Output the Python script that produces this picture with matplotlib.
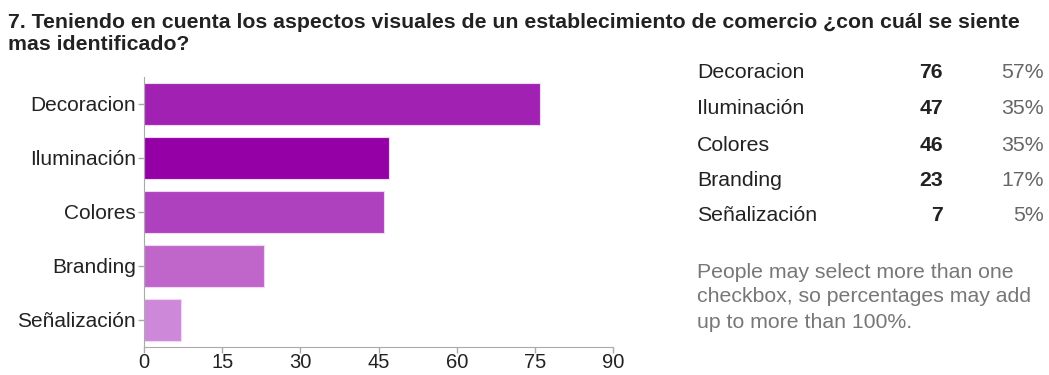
import matplotlib.pyplot as plt

plt.rcParams['font.family'] = ['Liberation Sans', 'DejaVu Sans']

categorias = ['Decoracion', 'Iluminación', 'Colores', 'Branding', 'Señalización']
respuestas = [76, 47, 46, 23, 7]
porcentajes = ['57%', '35%', '35%', '17%', '5%']
colores = ['#A121B3', '#9500A6', '#AE41BE', '#C066CB', '#CD88DA']
xticks = [0, 15, 30, 45, 60, 75, 90]

fig = plt.figure(figsize=(10.49, 3.75), dpi=100)
ax = fig.add_axes([0.1373, 0.0747, 0.4471, 0.72])

ypos = range(len(categorias))
ax.barh(ypos, respuestas, height=0.79, color=colores, edgecolor='#F0D8F4', linewidth=0.8)
ax.set_ylim(4.5, -0.5)
ax.set_xlim(0, 90)
ax.set_yticks(list(ypos))
ax.set_yticklabels(categorias)
ax.set_xticks(xticks)
for s in ['top', 'right']:
    ax.spines[s].set_visible(False)
for s in ['left', 'bottom']:
    ax.spines[s].set_color('#AAAAAA')
ax.tick_params(axis='both', colors='#AAAAAA', labelcolor='#222222', labelsize=15, length=4, width=1)
ax.tick_params(axis='y', pad=2)
ax.tick_params(axis='x', labelsize=14.5, pad=0.5)

fig.text(8 / 1049, 1 - 22 / 375, '7. Teniendo en cuenta los aspectos visuales de un establecimiento de comercio ¿con cuál se siente',
         fontsize=15.3, fontweight='bold', color='#222222', va='center', ha='left')
fig.text(8 / 1049, 1 - 44 / 375, 'mas identificado?',
         fontsize=15.3, fontweight='bold', color='#222222', va='center', ha='left')

# tabla de la derecha
filas_y = [73, 109, 145, 181, 216]
for nombre, n, p, y in zip(categorias, respuestas, porcentajes, filas_y):
    fy = 1 - y / 375
    fig.text(697 / 1049, fy, nombre, fontsize=15.3, color='#222222', va='center', ha='left')
    fig.text(943 / 1049, fy, str(n), fontsize=15.3, fontweight='bold', color='#222222', va='center', ha='right')
    fig.text(1044 / 1049, fy, p, fontsize=15.3, color='#666666', va='center', ha='right')

nota = ['People may select more than one', 'checkbox, so percentages may add', 'up to more than 100%.']
for linea, y in zip(nota, [272, 297, 322]):
    fig.text(697 / 1049, 1 - y / 375, linea, fontsize=15.3, color='#777777', va='center', ha='left')

fig.savefig('out.png', dpi=100)
